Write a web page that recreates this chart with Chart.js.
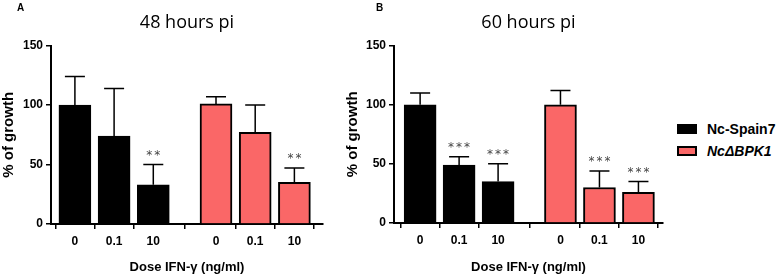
<!DOCTYPE html>
<html>
<head>
<meta charset="utf-8">
<script src="https://cdn.jsdelivr.net/npm/chart.js@4"></script>
<style>
  body { margin: 0; background: #fff; font-family: 'Liberation Sans', Arial, sans-serif; }
  #wrap { position: relative; width: 777px; height: 275px; overflow: hidden; }
  canvas { position: absolute; top: 0; }
  .letter { position: absolute; font-weight: bold; font-size: 10px; }
  #legend { position: absolute; left: 677px; top: 118px; font-weight: bold; font-size: 14px; }
  #legend div { display: flex; align-items: center; height: 22px; }
  #legend span.sw { display: inline-block; width: 16px; height: 6px; border: 2px solid #000; margin-right: 10px; }
</style>
</head>
<body>
<div id="wrap">
  <canvas id="chartA" width="340" height="275" style="left:0"></canvas>
  <canvas id="chartB" width="325" height="275" style="left:340px"></canvas>
  <div class="letter" style="left:17px;top:2px">A</div>
  <div class="letter" style="left:376px;top:2px">B</div>
  <div id="legend">
    <div><span class="sw" style="background:#000"></span>Nc-Spain7</div>
    <div><span class="sw" style="background:#fa6767"></span><i>NcΔBPK1</i></div>
  </div>
</div>
<script>
const doses = ['0', '0.1', '10'];
const seriesNames = ['Nc-Spain7', 'NcΔBPK1'];

// 48 hours pi
const spain48 = [100, 74, 33];
const spain48Sd = [24, 40, 17];
const spain48Sig = ['', '', '**'];
const bpk48 = [101, 77, 35];
const bpk48Sd = [6, 23, 12];
const bpk48Sig = ['', '', '**'];

// 60 hours pi
const spain60 = [100, 49, 35];
const spain60Sd = [10, 7, 15];
const spain60Sig = ['', '***', '***'];
const bpk60 = [100, 30, 26];
const bpk60Sd = [12, 14, 9];
const bpk60Sig = ['', '***', '***'];

const yTicks = [0, 50, 100, 150];

const GROUP_GAP = 3.6;
const BLACK = '#000000';
const RED = '#fa6767';

Chart.defaults.font.family = "'Liberation Sans', Arial, sans-serif";
Chart.defaults.color = '#000';

const errorBars = {
  id: 'errorBars',
  afterDatasetsDraw(chart) {
    const { ctx } = chart;
    const y = chart.scales.y;
    ctx.save();
    chart.data.datasets.forEach((ds, i) => {
      const meta = chart.getDatasetMeta(i);
      meta.data.forEach((bar, j) => {
        const top = y.getPixelForValue(ds.data[j].y + ds.sd[j]);
        ctx.strokeStyle = '#000';
        ctx.lineWidth = 1.5;
        ctx.beginPath();
        ctx.moveTo(bar.x, bar.y);
        ctx.lineTo(bar.x, top);
        ctx.moveTo(bar.x - 10, top);
        ctx.lineTo(bar.x + 10, top);
        ctx.stroke();
        const s = ds.sig[j];
        if (s) {
          ctx.fillStyle = '#444';
          ctx.font = '12px "DejaVu Sans", sans-serif';
          ctx.textAlign = 'center';
          ctx.textBaseline = 'middle';
          const step = 8;
          for (let k = 0; k < s.length; k++) {
            ctx.fillText('*', bar.x + (k - (s.length - 1) / 2) * step, top - 9);
          }
        }
      });
    });
    ctx.restore();
  }
};

function makePanel(id, title, a, aSd, aSig, b, bSd, bSig, cfg) {
  const pos = doses.map((d, i) => i).concat(doses.map((d, i) => i + GROUP_GAP));
  const labels = doses.concat(doses);
  new Chart(document.getElementById(id), {
    type: 'bar',
    data: {
      datasets: [
        { label: seriesNames[0], data: a.map((v, i) => ({ x: i, y: v })), sd: aSd, sig: aSig,
          backgroundColor: BLACK, borderColor: '#000', borderWidth: 2 },
        { label: seriesNames[1], data: b.map((v, i) => ({ x: i + GROUP_GAP, y: v })), sd: bSd, sig: bSig,
          backgroundColor: RED, borderColor: '#000', borderWidth: 2 }
      ]
    },
    options: {
      responsive: false,
      animation: false,
      grouped: false,
      barThickness: 32,
      layout: { padding: cfg.padding },
      plugins: {
        legend: { display: false },
        tooltip: { enabled: false },
        title: {
          display: true, text: title, fullSize: false,
          font: { family: "'Open Sans', sans-serif", size: 18, weight: 'normal' },
          color: '#000', padding: { top: 12, bottom: 12 }
        }
      },
      scales: {
        x: {
          type: 'linear', min: cfg.xmin, max: cfg.xmax, offset: false,
          afterBuildTicks: s => { s.ticks = pos.map(v => ({ value: v })); },
          afterFit: s => { s.height = cfg.xh; },
          ticks: { callback: (v, i) => labels[i], font: { size: 12, weight: 'bold' }, padding: 5, autoSkip: false, maxRotation: 0 },
          grid: { drawOnChartArea: false, color: '#000', lineWidth: 1.5, tickLength: 5 },
          border: { color: '#000', width: 2 },
          title: { display: true, text: 'Dose IFN-γ (ng/ml)', font: { size: 13, weight: 'bold' }, padding: 0 }
        },
        y: {
          min: 0, max: 150,
          afterBuildTicks: s => { s.ticks = yTicks.map(v => ({ value: v })); },
          afterFit: s => { s.width = cfg.yw; },
          ticks: { font: { size: 12, weight: 'bold' }, padding: 3 },
          grid: { drawOnChartArea: false, color: '#000', lineWidth: 1.5, tickLength: 5 },
          border: { color: '#000', width: 2 },
          title: { display: true, text: '% of growth', font: { size: 15, weight: 'bold' }, padding: 0 }
        }
      }
    },
    plugins: [errorBars]
  });
}

makePanel('chartA', '48 hours pi', spain48, spain48Sd, spain48Sig, bpk48, bpk48Sd, bpk48Sig,
  { padding: { left: 0, right: 17, top: 0, bottom: 0 }, xmin: -0.61, xmax: 6.33, xh: 51, yw: 51 });
makePanel('chartB', '60 hours pi', spain60, spain60Sd, spain60Sig, bpk60, bpk60Sd, bpk60Sig,
  { padding: { left: 4, right: 2, top: 0, bottom: 0 }, xmin: -0.67, xmax: 6.23, xh: 52, yw: 50 });
</script>
</body>
</html>
